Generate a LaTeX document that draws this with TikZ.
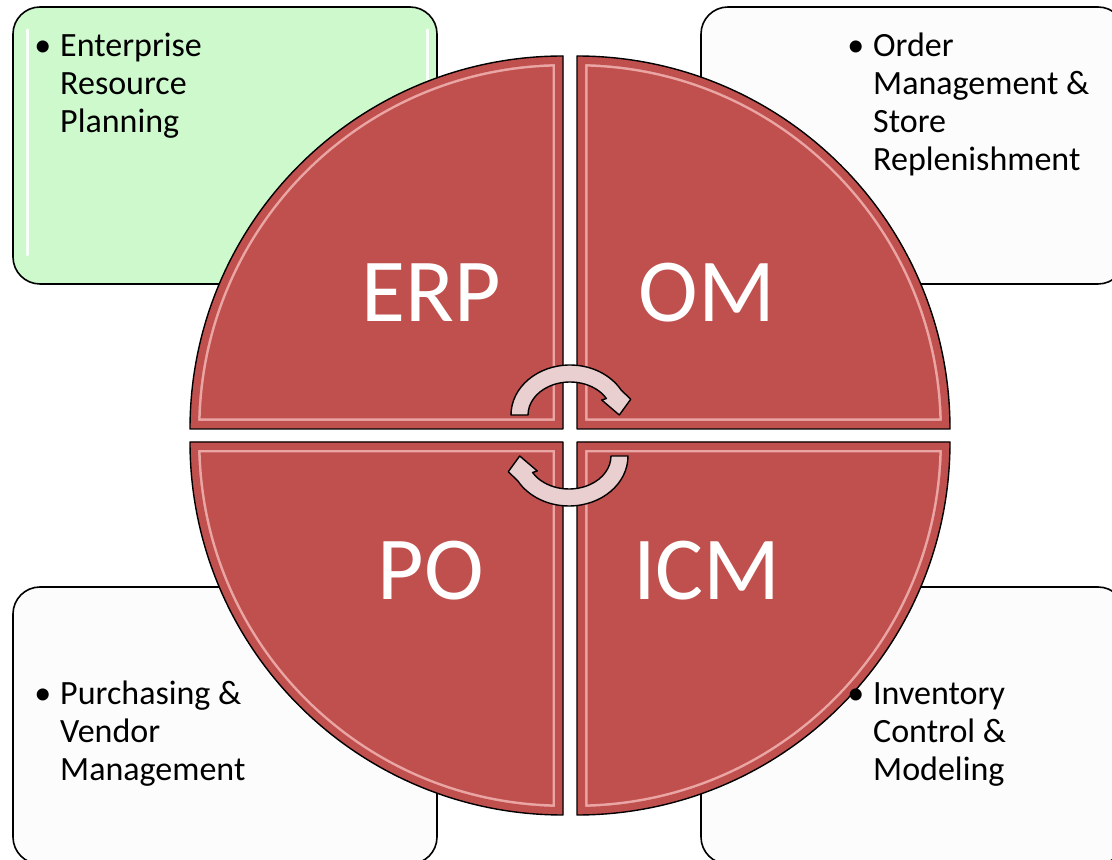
\documentclass[tikz,border=0pt]{standalone}
\usepackage{fontspec}
\setmainfont{Carlito}
\definecolor{quad}{HTML}{C0504D}
\definecolor{boxgreen}{HTML}{CDF9CD}
\definecolor{boxgray}{HTML}{FCFCFC}
\definecolor{arrowfill}{HTML}{E9CFCF}
\definecolor{bevel}{HTML}{F2B6B4}
\begin{document}
\begin{tikzpicture}[x=1pt,y=1pt,
  infobox/.style={draw=black, line width=1.6pt, rounded corners=27pt},
  quadline/.style={draw=black, line width=1.4pt, line join=round},
  bigtext/.style={text=white, font=\fontsize{90}{108}\selectfont, anchor=base, inner sep=0pt},
  bullettext/.style={font=\fontsize{34}{38}\selectfont, align=left, anchor=base west, inner sep=0pt},
  cyclearrow/.style={fill=arrowfill, draw=black, line width=1.4pt, line join=round}]
\useasboundingbox (0,0) rectangle (1112,860);
\clip (0,0) rectangle (1112,860);

% info boxes
\draw[infobox, fill=boxgreen] (13,576) rectangle (437,853);
\draw[white, line width=3pt, line cap=round, opacity=0.9] (27,605) -- (27,830);
\draw[white, line width=3pt, line cap=round, opacity=0.9] (427,605) -- (427,830);
\draw[infobox, fill=boxgray] (701,576) rectangle (1125,853);
\draw[infobox, fill=boxgray] (13,-4) rectangle (437,273);
\draw[infobox, fill=boxgray] (701,-4) rectangle (1125,273);

% quadrants
\foreach \sx/\sy/\rot in {563/431/0, 577/431/-90, 563/418/90, 577/418/180} {
  \begin{scope}[shift={(\sx,\sy)}, rotate=\rot]
    \begin{scope}
      \clip (0,0) -- (-373,0) arc[start angle=180,end angle=90,radius=373] -- cycle;
      \fill[quad] (-400,-10) rectangle (10,400);
      \draw[bevel, line width=21pt, line join=miter, opacity=0.85]
        (0,0) -- (-373,0) arc[start angle=180,end angle=90,radius=373] -- cycle;
      \draw[quad, line width=16pt, line join=miter]
        (0,0) -- (-373,0) arc[start angle=180,end angle=90,radius=373] -- cycle;
    \end{scope}
    \draw[quadline] (0,0) -- (-373,0) arc[start angle=180,end angle=90,radius=373] -- cycle;
  \end{scope}
}

% cycle arrows
\draw[cyclearrow] (511,445) arc[start angle=180,end angle=30,x radius=59,y radius=50]
  -- (630.7,460.7) -- (619.3,445) -- (601.7,460) -- (606.4,461.5)
  arc[start angle=30,end angle=180,x radius=42,y radius=33] -- cycle;
\draw[cyclearrow, rotate around={180:(569.5,424.5)}] (511,445) arc[start angle=180,end angle=30,x radius=59,y radius=50]
  -- (630.7,460.7) -- (619.3,445) -- (601.7,460) -- (606.4,461.5)
  arc[start angle=30,end angle=180,x radius=42,y radius=33] -- cycle;

% big labels
\node[bigtext] (erp) at (431,538) {ERP};
\node[bigtext] (om) at (707,538) {OM};
\node[bigtext] (po) at (431,260) {PO};
\node[bigtext] (icm) at (707,260) {ICM};

% notes (base anchor = baseline of last line)
\node[bullettext] (erpnote) at (60,727) {\llap{\textbullet\hspace{9pt}}Enterprise\\Resource\\Planning};
\node[bullettext] (omnote) at (873,689) {\llap{\textbullet\hspace{9pt}}Order\\Management \&\\Store\\Replenishment};
\node[bullettext] (ponote) at (60,79) {\llap{\textbullet\hspace{9pt}}Purchasing \&\\Vendor\\Management};
\node[bullettext] (icmnote) at (873,79) {\llap{\textbullet\hspace{9pt}}Inventory\\Control \&\\Modeling};
\end{tikzpicture}
\end{document}
